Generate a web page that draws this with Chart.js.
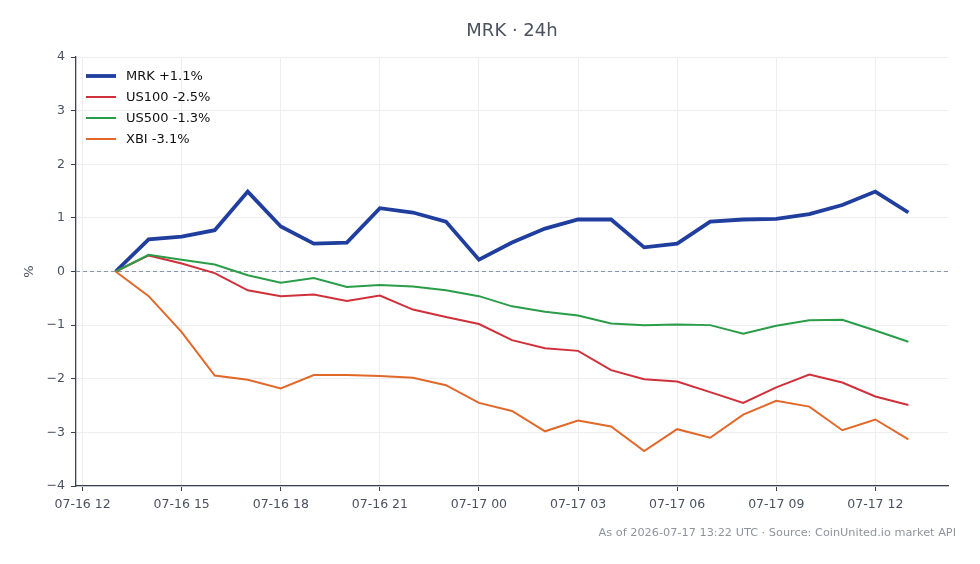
<!DOCTYPE html>
<html>
<head>
<meta charset="utf-8">
<script src="https://cdn.jsdelivr.net/npm/chart.js@4/dist/chart.umd.min.js"></script>
<style>
  html, body { margin: 0; padding: 0; background: #ffffff; }
  #wrap { width: 980px; height: 564px; }
</style>
</head>
<body>
<div id="wrap"><canvas id="c" width="980" height="564"></canvas></div>
<script>
// ---- Data ----
const times = [
  '2026-07-16 13:00','2026-07-16 14:00','2026-07-16 15:00','2026-07-16 16:00','2026-07-16 17:00',
  '2026-07-16 18:00','2026-07-16 19:00','2026-07-16 20:00','2026-07-16 21:00','2026-07-16 22:00',
  '2026-07-16 23:00','2026-07-17 00:00','2026-07-17 01:00','2026-07-17 02:00','2026-07-17 03:00',
  '2026-07-17 04:00','2026-07-17 05:00','2026-07-17 06:00','2026-07-17 07:00','2026-07-17 08:00',
  '2026-07-17 09:00','2026-07-17 10:00','2026-07-17 11:00','2026-07-17 12:00','2026-07-17 13:00'
];
const seriesNames = ['MRK +1.1%', 'US100 -2.5%', 'US500 -1.3%', 'XBI -3.1%'];
const mrk   = [0, 0.60, 0.65, 0.77, 1.49, 0.84, 0.52, 0.54, 1.18, 1.10, 0.93, 0.22, 0.54, 0.80, 0.97, 0.97, 0.45, 0.52, 0.93, 0.97, 0.98, 1.07, 1.24, 1.49, 1.10];
const us100 = [0, 0.30, 0.15, -0.03, -0.35, -0.46, -0.43, -0.55, -0.45, -0.71, -0.85, -0.98, -1.28, -1.43, -1.48, -1.84, -2.01, -2.05, -2.25, -2.45, -2.16, -1.92, -2.07, -2.33, -2.49];
const us500 = [0, 0.31, 0.22, 0.13, -0.07, -0.21, -0.12, -0.29, -0.25, -0.28, -0.35, -0.46, -0.65, -0.75, -0.82, -0.97, -1.00, -0.99, -1.00, -1.16, -1.01, -0.91, -0.90, -1.10, -1.31];
const xbi   = [0, -0.46, -1.13, -1.94, -2.02, -2.18, -1.93, -1.93, -1.95, -1.98, -2.12, -2.45, -2.60, -2.98, -2.78, -2.89, -3.35, -2.94, -3.10, -2.67, -2.41, -2.52, -2.96, -2.76, -3.13];
const xTickLabels = ['07-16 12','07-16 15','07-16 18','07-16 21','07-17 00','07-17 03','07-17 06','07-17 09','07-17 12'];
const xTickTimes  = ['2026-07-16 12:00','2026-07-16 15:00','2026-07-16 18:00','2026-07-16 21:00','2026-07-17 00:00','2026-07-17 03:00','2026-07-17 06:00','2026-07-17 09:00','2026-07-17 12:00'];
const yTicks = [-4, -3, -2, -1, 0, 1, 2, 3, 4];
const titleText = 'MRK · 24h';
const footerText = 'As of 2026-07-17 13:22 UTC · Source: CoinUnited.io market API';

// ---- helpers ----
const origin = Date.parse('2026-07-16T12:00:00Z');
const toHours = s => (Date.parse(s.replace(' ', 'T') + ':00Z') - origin) / 3600000;
const xs = times.map(toHours);
const xTickHours = xTickTimes.map(toHours);
const pts = arr => arr.map((v, i) => ({ x: xs[i], y: v }));

const colors = ['#1f3e9e', '#d0303a', '#2a9d48', '#e2682a'];
const widths = [3.8, 2, 2, 2];
const seriesData = [mrk, us100, us500, xbi];

const FONT = "'DejaVu Sans', sans-serif";
const span = xs[xs.length - 1] - xs[0];

const overlay = {
  id: 'overlay',
  beforeDatasetsDraw(chart) {
    const { ctx, chartArea, scales } = chart;
    const y0 = scales.y.getPixelForValue(0);
    ctx.save();
    ctx.strokeStyle = '#8c96a8';
    ctx.lineWidth = 1;
    ctx.setLineDash([4, 3]);
    ctx.beginPath();
    ctx.moveTo(chartArea.left, y0);
    ctx.lineTo(chartArea.right, y0);
    ctx.stroke();
    ctx.restore();
  },
  afterDraw(chart) {
    const { ctx, chartArea } = chart;
    ctx.save();
    // title
    ctx.fillStyle = '#4a5260';
    ctx.font = '18px ' + FONT;
    ctx.textAlign = 'center';
    ctx.textBaseline = 'middle';
    ctx.fillText(titleText, (chartArea.left + chartArea.right) / 2, 31.5);
    // y label
    ctx.save();
    ctx.translate(30, (chartArea.top + chartArea.bottom) / 2);
    ctx.rotate(-Math.PI / 2);
    ctx.fillStyle = '#4a5260';
    ctx.font = '13px ' + FONT;
    ctx.fillText('%', 0, 0);
    ctx.restore();
    // footer
    ctx.fillStyle = '#8e949c';
    ctx.font = '11.3px ' + FONT;
    ctx.textAlign = 'right';
    ctx.fillText(footerText, 956, 533.5);
    // legend
    const lx = chartArea.left + 10;
    let ly = chartArea.top + 19;
    ctx.textAlign = 'left';
    ctx.font = '13px ' + FONT;
    chart.data.datasets.forEach((ds, i) => {
      ctx.strokeStyle = ds.borderColor;
      ctx.lineWidth = ds.borderWidth;
      ctx.setLineDash([]);
      ctx.beginPath();
      ctx.moveTo(lx, ly);
      ctx.lineTo(lx + 30, ly);
      ctx.stroke();
      ctx.fillStyle = '#111111';
      ctx.fillText(ds.label, lx + 40, ly + 1);
      ly += 21;
    });
    ctx.restore();
  }
};

new Chart(document.getElementById('c'), {
  type: 'line',
  data: {
    datasets: seriesData.map((arr, i) => ({
      label: seriesNames[i],
      data: pts(arr),
      borderColor: colors[i],
      backgroundColor: colors[i],
      borderWidth: widths[i],
      pointRadius: 0,
      tension: 0,
      fill: false,
      order: 4 - i
    }))
  },
  options: {
    responsive: false,
    animation: false,
    layout: { padding: { top: 57, right: 32, bottom: 0, left: 0 } },
    plugins: { legend: { display: false }, title: { display: false }, tooltip: { enabled: false } },
    scales: {
      x: {
        type: 'linear',
        min: xs[0] - span * 0.05,
        max: xs[xs.length - 1] + span * 0.05,
        afterBuildTicks: s => { s.ticks = xTickHours.map(v => ({ value: v })); },
        afterFit: s => { s.height = 78; },
        ticks: {
          callback: (v) => { const k = xTickHours.indexOf(v); return k >= 0 ? xTickLabels[k] : ''; },
          color: '#4a5260',
          font: { family: FONT, size: 12.5 },
          padding: 6,
          maxRotation: 0,
          autoSkip: false
        },
        grid: { color: '#eceef1', lineWidth: 1, tickColor: '#3a4250', tickLength: 5 },
        border: { color: '#3a4250', width: 1.3 }
      },
      y: {
        min: -4, max: 4,
        afterBuildTicks: s => { s.ticks = yTicks.map(v => ({ value: v })); },
        afterFit: s => { s.width = 76; },
        ticks: {
          callback: v => (v < 0 ? '\u2212' + Math.abs(v) : String(v)),
          color: '#4a5260',
          font: { family: FONT, size: 12.5 },
          padding: 6
        },
        grid: { color: '#eceef1', lineWidth: 1, tickColor: '#3a4250', tickLength: 5 },
        border: { color: '#3a4250', width: 1.3 }
      }
    }
  },
  plugins: [overlay]
});
</script>
</body>
</html>
